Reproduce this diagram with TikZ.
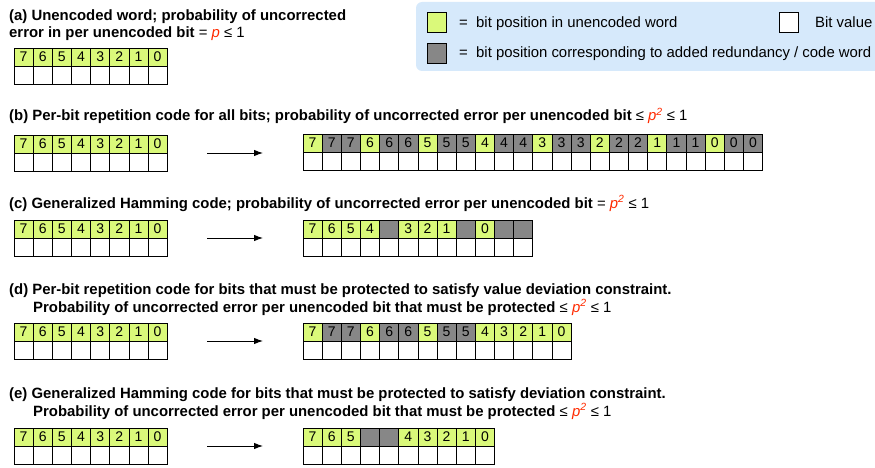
\documentclass[tikz,border=0pt]{standalone}
\usepackage{fontspec}
\setmainfont{Liberation Sans}
\usetikzlibrary{arrows.meta}

\definecolor{bitgreen}{HTML}{DAF97A}
\definecolor{bitgray}{HTML}{878787}
\definecolor{legendblue}{HTML}{D6E9FB}
\definecolor{probred}{HTML}{FF2A00}

\newcommand{\pv}{\textcolor{probred}{\textit{p}}}
\newcommand{\psq}{\textcolor{probred}{\textit{p}\textsuperscript{\textit{2}}}}
\newcommand{\cw}{19.15}

% one two-row bit word: #1 name, #2 left x, #3 top y, #4 label/style list
\newcommand{\bitword}[4]{%
  \foreach [count=\i] \lab/\kind in {#4} {
    \node[bitcell, \kind] (#1-\i) at ({#2+(\i-0.5)*\cw}, {#3+9}) {\lab};
    \node[bitcell] (#1-v\i) at ({#2+(\i-0.5)*\cw}, {#3+27}) {};
  }}

\tikzset{
  bitcell/.style={draw=black, line width=0.8pt, fill=white, minimum width=\cw pt,
    minimum height=18pt, inner sep=0pt, font=\fontsize{14}{16}\selectfont},
  ubit/.style={fill=bitgreen},
  rbit/.style={fill=bitgray},
  title/.style={anchor=base west, inner sep=0pt, font=\fontsize{14.9}{17}\selectfont\bfseries},
  legtext/.style={anchor=base west, inner sep=0pt, font=\fontsize{14.9}{17}\selectfont},
  swatch/.style={draw=black, line width=0.6pt, minimum width=19pt, minimum height=20pt, inner sep=0pt},
  conn/.style={line width=0.9pt, -{Latex[length=9pt,width=6.5pt]}},
}

\begin{document}
\begin{tikzpicture}[x=1pt, y=-1pt]
\useasboundingbox (0,0) rectangle (875,468);

% legend
\begin{scope}
  \clip (0,0) rectangle (875,468);
  \fill[legendblue, rounded corners=6pt] (416,2) rectangle (890,71);
\end{scope}
\node[swatch, fill=bitgreen] (keyU) at (436.5,22) {};
\node[swatch, fill=bitgray] (keyR) at (436.5,53) {};
\node[swatch, fill=white] (keyV) at (789,22) {};
\node[legtext] (keyUt) at (459,28) {=\ \ bit position in unencoded word};
\node[legtext] (keyRt) at (459,58) {=\ \ bit position corresponding to added redundancy / code word};
\node[legtext] (keyVt) at (815,28) {Bit value};

% (a)
\node[title] (ta1) at (9,21) {(a) Unencoded word; probability of uncorrected};
\node[title] (ta2) at (9,38) {error in per unencoded bit {\mdseries = \pv{} ≤ 1}};
\bitword{wa}{14}{48}{7/ubit,6/ubit,5/ubit,4/ubit,3/ubit,2/ubit,1/ubit,0/ubit}

% (b)
\node[title] (tb) at (9,121) {(b) Per-bit repetition code for all bits; probability of uncorrected error per unencoded bit {\mdseries ≤ \psq{} ≤ 1}};
\bitword{wbl}{14}{135}{7/ubit,6/ubit,5/ubit,4/ubit,3/ubit,2/ubit,1/ubit,0/ubit}
\bitword{wbr}{303}{134}{7/ubit,7/rbit,7/rbit,6/ubit,6/rbit,6/rbit,5/ubit,5/rbit,5/rbit,4/ubit,4/rbit,4/rbit,3/ubit,3/rbit,3/rbit,2/ubit,2/rbit,2/rbit,1/ubit,1/rbit,1/rbit,0/ubit,0/rbit,0/rbit}
\coordinate (ab0) at (207,153);
\coordinate (ab1) at (263,153);
\draw[conn] (ab0) -- (ab1);

% (c)
\node[title] (tc) at (9,208) {(c) Generalized Hamming code; probability of uncorrected error per unencoded bit {\mdseries = \psq{} ≤ 1}};
\bitword{wcl}{14}{220}{7/ubit,6/ubit,5/ubit,4/ubit,3/ubit,2/ubit,1/ubit,0/ubit}
\bitword{wcr}{303}{220}{7/ubit,6/ubit,5/ubit,4/ubit,{}/rbit,3/ubit,2/ubit,1/ubit,{}/rbit,0/ubit,{}/rbit,{}/rbit}
\coordinate (ac0) at (207,238);
\coordinate (ac1) at (263,238);
\draw[conn] (ac0) -- (ac1);

% (d)
\node[title] (td1) at (9,294) {(d) Per-bit repetition code for bits that must be protected to satisfy value deviation constraint.};
\node[title] (td2) at (33,312) {Probability of uncorrected error per unencoded bit that must be protected {\mdseries ≤ \psq{} ≤ 1}};
\bitword{wdl}{14}{323}{7/ubit,6/ubit,5/ubit,4/ubit,3/ubit,2/ubit,1/ubit,0/ubit}
\bitword{wdr}{303}{323}{7/ubit,7/rbit,7/rbit,6/ubit,6/rbit,6/rbit,5/ubit,5/rbit,5/rbit,4/ubit,3/ubit,2/ubit,1/ubit,0/ubit}
\coordinate (ad0) at (207,341);
\coordinate (ad1) at (263,341);
\draw[conn] (ad0) -- (ad1);

% (e)
\node[title] (te1) at (9,398) {(e) Generalized Hamming code for bits that must be protected to satisfy deviation constraint.};
\node[title] (te2) at (33,416) {Probability of uncorrected error per unencoded bit that must be protected {\mdseries ≤ \psq{} ≤ 1}};
\bitword{wel}{14}{428}{7/ubit,6/ubit,5/ubit,4/ubit,3/ubit,2/ubit,1/ubit,0/ubit}
\bitword{wer}{303}{428}{7/ubit,6/ubit,5/ubit,{}/rbit,{}/rbit,4/ubit,3/ubit,2/ubit,1/ubit,0/ubit}
\coordinate (ae0) at (207,446);
\coordinate (ae1) at (263,446);
\draw[conn] (ae0) -- (ae1);
\end{tikzpicture}
\end{document}
